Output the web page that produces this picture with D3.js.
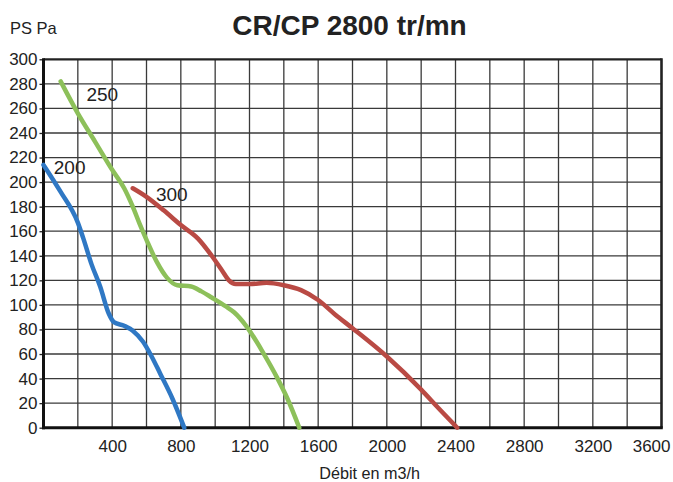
<!DOCTYPE html>
<html>
<head>
<meta charset="utf-8">
<script src="https://cdn.jsdelivr.net/npm/d3@7/dist/d3.min.js"></script>
<style>
  html, body { margin: 0; padding: 0; background: #fff; }
  svg { display: block; font-family: "Liberation Sans", Arial, sans-serif; }
</style>
</head>
<body>
<svg id="chart" width="673" height="482"></svg>
<script>
// ---- data ----
const title = "CR/CP 2800 tr/mn";
const yAxisLabel = "PS Pa";
const xAxisLabel = "Débit en m3/h";
const xTickLabels = [400, 800, 1200, 1600, 2000, 2400, 2800, 3200, 3600];
const yTickLabels = [0, 20, 40, 60, 80, 100, 120, 140, 160, 180, 200, 220, 240, 260, 280, 300];
const seriesNames = ["200", "250", "300"];

const series200 = [[0,214],[100,192],[200,167],[230,155],[280,133],[330,115],[380,93],[410,86],[470,83],[520,79],[580,70],[630,58],[680,44],[750,24],[820,0]];
const series250 = [[100,282],[200,256],[300,233],[400,210],[470,195],[520,180],[560,166],[600,153],[660,135],[720,122],[780,116],[860,115],[920,111],[980,106],[1060,99],[1110,94],[1180,83],[1280,61],[1360,41],[1420,24],[1490,0]];
const series300 = [[520,195],[600,188],[700,177],[800,165],[900,154],[980,140],[1040,128],[1080,120],[1120,117],[1200,117],[1300,118],[1400,116],[1500,112],[1600,104],[1700,92],[1800,81],[2000,58],[2200,31],[2300,16],[2410,0]];

// ---- drawing ----
const svg = d3.select("#chart");
const x = d3.scaleLinear().domain([0, 3600]).range([43.5, 661.5]);
const y = d3.scaleLinear().domain([0, 300]).range([427.7, 59.3]);

// grid
const g = svg.append("g");
g.selectAll("line.v").data(d3.range(200, 3600, 200)).join("line")
  .attr("x1", d => x(d)).attr("x2", d => x(d))
  .attr("y1", y(300)).attr("y2", y(0))
  .attr("stroke", "#3a3a3a").attr("stroke-width", 1.3);
g.selectAll("line.h").data(d3.range(20, 300, 20)).join("line")
  .attr("x1", x(0)).attr("x2", x(3600))
  .attr("y1", d => y(d)).attr("y2", d => y(d))
  .attr("stroke", "#3a3a3a").attr("stroke-width", 1.3);

// frame
svg.append("line").attr("x1", x(0)).attr("x2", x(3600)).attr("y1", y(300)).attr("y2", y(300))
  .attr("stroke", "#222").attr("stroke-width", 2.2);
svg.append("line").attr("x1", x(3600)).attr("x2", x(3600)).attr("y1", y(300) - 1).attr("y2", y(0))
  .attr("stroke", "#222").attr("stroke-width", 2.6);

// axes
const fmt = d3.format("d");
const yAxis = d3.axisLeft(y).tickValues(yTickLabels).tickFormat(fmt).tickSize(4).tickPadding(2);
const yg = svg.append("g").attr("transform", `translate(${x(0)},0)`).call(yAxis);
yg.select(".domain").remove();
yg.selectAll(".tick line").attr("stroke", "#222").attr("stroke-width", 1.3);
yg.selectAll(".tick text").attr("font-size", 17).attr("fill", "#222")
  .attr("font-family", "'Liberation Sans', Arial, sans-serif");

const xAxis = d3.axisBottom(x).tickValues(xTickLabels).tickFormat(fmt).tickSize(0).tickPadding(12);
const xg = svg.append("g").attr("transform", `translate(0,${y(0)})`).call(xAxis);
xg.select(".domain").remove();
xg.selectAll(".tick text").attr("font-size", 17).attr("fill", "#222")
  .attr("font-family", "'Liberation Sans', Arial, sans-serif");
// last label kept inside the picture
xg.selectAll(".tick text").filter(d => d === d3.max(xTickLabels))
  .attr("text-anchor", "end").attr("x", 8.5);

svg.append("line").attr("x1", x(0)).attr("x2", x(0)).attr("y1", y(300) - 1).attr("y2", y(0) + 1.5)
  .attr("stroke", "#111").attr("stroke-width", 3);
svg.append("line").attr("x1", x(0) - 1.5).attr("x2", x(3600) + 1.3).attr("y1", y(0)).attr("y2", y(0))
  .attr("stroke", "#111").attr("stroke-width", 3);

// curves
const line = d3.line().x(d => x(d[0])).y(d => y(d[1])).curve(d3.curveMonotoneX);
const colors = ["#2f78c4", "#8dc05a", "#b94a44"];
const allSeries = [series200, series250, series300];
svg.append("g").selectAll("path").data(allSeries).join("path")
  .attr("d", line)
  .attr("fill", "none")
  .attr("stroke", (d, i) => colors[i])
  .attr("stroke-width", 4.5)
  .attr("stroke-linecap", "round")
  .attr("stroke-linejoin", "round");

// curve labels (anchored at a data value near each curve start)
const labelAnchors = [[60, 207], [250, 266], [655, 185]];
svg.append("g").selectAll("text").data(seriesNames).join("text")
  .attr("x", (d, i) => x(labelAnchors[i][0]))
  .attr("y", (d, i) => y(labelAnchors[i][1]))
  .attr("font-size", 19).attr("fill", "#222")
  .text(d => d);

// titles
svg.append("text").attr("x", 349.5).attr("y", 35).attr("text-anchor", "middle")
  .attr("font-size", 28).attr("font-weight", "bold").attr("fill", "#222").text(title);
svg.append("text").attr("x", 10).attr("y", 34)
  .attr("font-size", 16.5).attr("fill", "#222").text(yAxisLabel);
svg.append("text").attr("x", 369.7).attr("y", 479).attr("text-anchor", "middle")
  .attr("font-size", 16.2).attr("fill", "#222").text(xAxisLabel);
</script>
</body>
</html>
